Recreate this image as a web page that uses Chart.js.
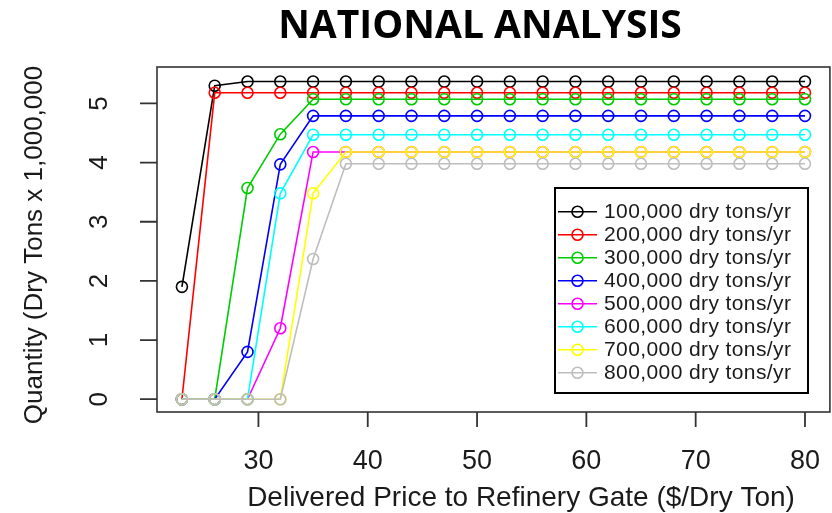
<!DOCTYPE html>
<html><head><meta charset="utf-8">
<script src="https://cdn.jsdelivr.net/npm/chart.js@4.4.1/dist/chart.umd.min.js"></script>
<style>html,body{margin:0;padding:0;background:#fff;overflow:hidden}canvas{display:block}</style>
</head><body>
<canvas id="c" width="837" height="513"></canvas>
<script>
const chartTitle = "NATIONAL ANALYSIS";
const xTitle = "Delivered Price to Refinery Gate ($/Dry Ton)";
const yTitle = "Quantity (Dry Tons x 1,000,000";
const prices = [23, 26, 29, 32, 35, 38, 41, 44, 47, 50, 53, 56, 59, 62, 65, 68, 71, 74, 77, 80];
const xTickLabels = [30, 40, 50, 60, 70, 80];
const yTickLabels = [0, 1, 2, 3, 4, 5];
const seriesLabels = ["100,000 dry tons/yr", "200,000 dry tons/yr", "300,000 dry tons/yr", "400,000 dry tons/yr",
                      "500,000 dry tons/yr", "600,000 dry tons/yr", "700,000 dry tons/yr", "800,000 dry tons/yr"];
const seriesColors = ["#000000", "#FF0000", "#00CD00", "#0000FF", "#FF00FF", "#00FFFF", "#FFFF00", "#BEBEBE"];
const s100 = [1.9, 5.3, 5.37, 5.37, 5.37, 5.37, 5.37, 5.37, 5.37, 5.37, 5.37, 5.37, 5.37, 5.37, 5.37, 5.37, 5.37, 5.37, 5.37, 5.37];
const s200 = [0, 5.18, 5.18, 5.18, 5.18, 5.18, 5.18, 5.18, 5.18, 5.18, 5.18, 5.18, 5.18, 5.18, 5.18, 5.18, 5.18, 5.18, 5.18, 5.18];
const s300 = [0, 0, 3.57, 4.48, 5.07, 5.07, 5.07, 5.07, 5.07, 5.07, 5.07, 5.07, 5.07, 5.07, 5.07, 5.07, 5.07, 5.07, 5.07, 5.07];
const s400 = [0, 0, 0.8, 3.97, 4.79, 4.79, 4.79, 4.79, 4.79, 4.79, 4.79, 4.79, 4.79, 4.79, 4.79, 4.79, 4.79, 4.79, 4.79, 4.79];
const s500 = [0, 0, 0, 1.2, 4.18, 4.18, 4.18, 4.18, 4.18, 4.18, 4.18, 4.18, 4.18, 4.18, 4.18, 4.18, 4.18, 4.18, 4.18, 4.18];
const s600 = [0, 0, 0, 3.48, 4.47, 4.47, 4.47, 4.47, 4.47, 4.47, 4.47, 4.47, 4.47, 4.47, 4.47, 4.47, 4.47, 4.47, 4.47, 4.47];
const s700 = [0, 0, 0, 0, 3.48, 4.18, 4.18, 4.18, 4.18, 4.18, 4.18, 4.18, 4.18, 4.18, 4.18, 4.18, 4.18, 4.18, 4.18, 4.18];
const s800 = [0, 0, 0, 0, 2.37, 3.98, 3.98, 3.98, 3.98, 3.98, 3.98, 3.98, 3.98, 3.98, 3.98, 3.98, 3.98, 3.98, 3.98, 3.98];
const allSeries = [s100, s200, s300, s400, s500, s600, s700, s800];

const datasets = allSeries.map((s, i) => ({
  label: seriesLabels[i],
  data: s.map((v, j) => ({x: prices[j], y: v})),
  borderColor: seriesColors[i],
  borderWidth: 1.6,
  pointRadius: 5.5,
  pointBorderWidth: 1.6,
  pointBorderColor: seriesColors[i],
  pointBackgroundColor: 'rgba(0,0,0,0)',
  pointStyle: 'circle',
  fill: false,
  tension: 0,
  order: 7 - i,
  clip: false
}));

const rPlot = {
  id: 'rplot',
  afterDraw(chart) {
    const {ctx, chartArea: a, scales: {x, y}} = chart;
    ctx.save();
    // title
    ctx.fillStyle = '#000';
    ctx.font = 'bold 39px "Open Sans"';
    ctx.textAlign = 'center';
    ctx.textBaseline = 'alphabetic';
    ctx.fillText(chartTitle, 480, 38);
    // box
    ctx.strokeStyle = '#333';
    ctx.lineWidth = 1.6;
    ctx.strokeRect(a.left, a.top, a.right - a.left, a.bottom - a.top);
    // ticks
    ctx.lineWidth = 1.8;
    ctx.beginPath();
    xTickLabels.forEach(v => {
      const px = x.getPixelForValue(v);
      ctx.moveTo(px, a.bottom); ctx.lineTo(px, a.bottom + 15);
    });
    yTickLabels.forEach(v => {
      const py = y.getPixelForValue(v);
      ctx.moveTo(a.left - 17, py); ctx.lineTo(a.left, py);
    });
    ctx.stroke();
    // x tick labels
    ctx.fillStyle = '#1a1a1a';
    ctx.font = '27px "Liberation Sans"';
    ctx.textAlign = 'center';
    ctx.textBaseline = 'middle';
    xTickLabels.forEach(v => ctx.fillText(String(v), x.getPixelForValue(v), 462));
    // x title
    ctx.font = '28px "Liberation Sans"';
    ctx.fillText(xTitle, 521, 498);
    // y tick labels (rotated)
    ctx.font = '26px "Liberation Sans"';
    yTickLabels.forEach(v => {
      ctx.save();
      ctx.translate(100, y.getPixelForValue(v));
      ctx.rotate(-Math.PI / 2);
      ctx.fillText(String(v), 0, 0);
      ctx.restore();
    });
    // y title
    ctx.save();
    ctx.translate(35, 245);
    ctx.rotate(-Math.PI / 2);
    ctx.fillText(yTitle, 0, 0);
    ctx.restore();
    // legend
    const lx = 555, ly = 188, lw = 253, lh = 205;
    ctx.fillStyle = '#fff';
    ctx.fillRect(lx, ly, lw, lh);
    ctx.strokeStyle = '#000';
    ctx.lineWidth = 2;
    ctx.strokeRect(lx, ly, lw, lh);
    ctx.font = '21px "Liberation Sans"';
    ctx.letterSpacing = '0.4px';
    ctx.textAlign = 'left';
    ctx.textBaseline = 'middle';
    chart.data.datasets.forEach((ds, i) => {
      const cy = 211.7 + i * 23;
      ctx.strokeStyle = ds.borderColor;
      ctx.lineWidth = 1.6;
      ctx.beginPath();
      ctx.moveTo(558, cy); ctx.lineTo(597, cy);
      ctx.stroke();
      ctx.beginPath();
      ctx.arc(577.5, cy, 5.5, 0, Math.PI * 2);
      ctx.stroke();
      ctx.fillStyle = '#1a1a1a';
      ctx.fillText(ds.label, 604, cy + 1);
    });
    ctx.restore();
  }
};

new Chart(document.getElementById('c'), {
  type: 'line',
  data: {datasets},
  options: {
    responsive: false,
    animation: false,
    devicePixelRatio: 1,
    layout: {padding: {left: 157, top: 67, right: 0, bottom: 101}},
    plugins: {legend: {display: false}, tooltip: {enabled: false}, title: {display: false}},
    scales: {
      x: {type: 'linear', min: 20.72, max: 82.28, display: false},
      y: {type: 'linear', min: -0.216, max: 5.616, display: false}
    }
  },
  plugins: [rPlot]
});
</script>
</body></html>
